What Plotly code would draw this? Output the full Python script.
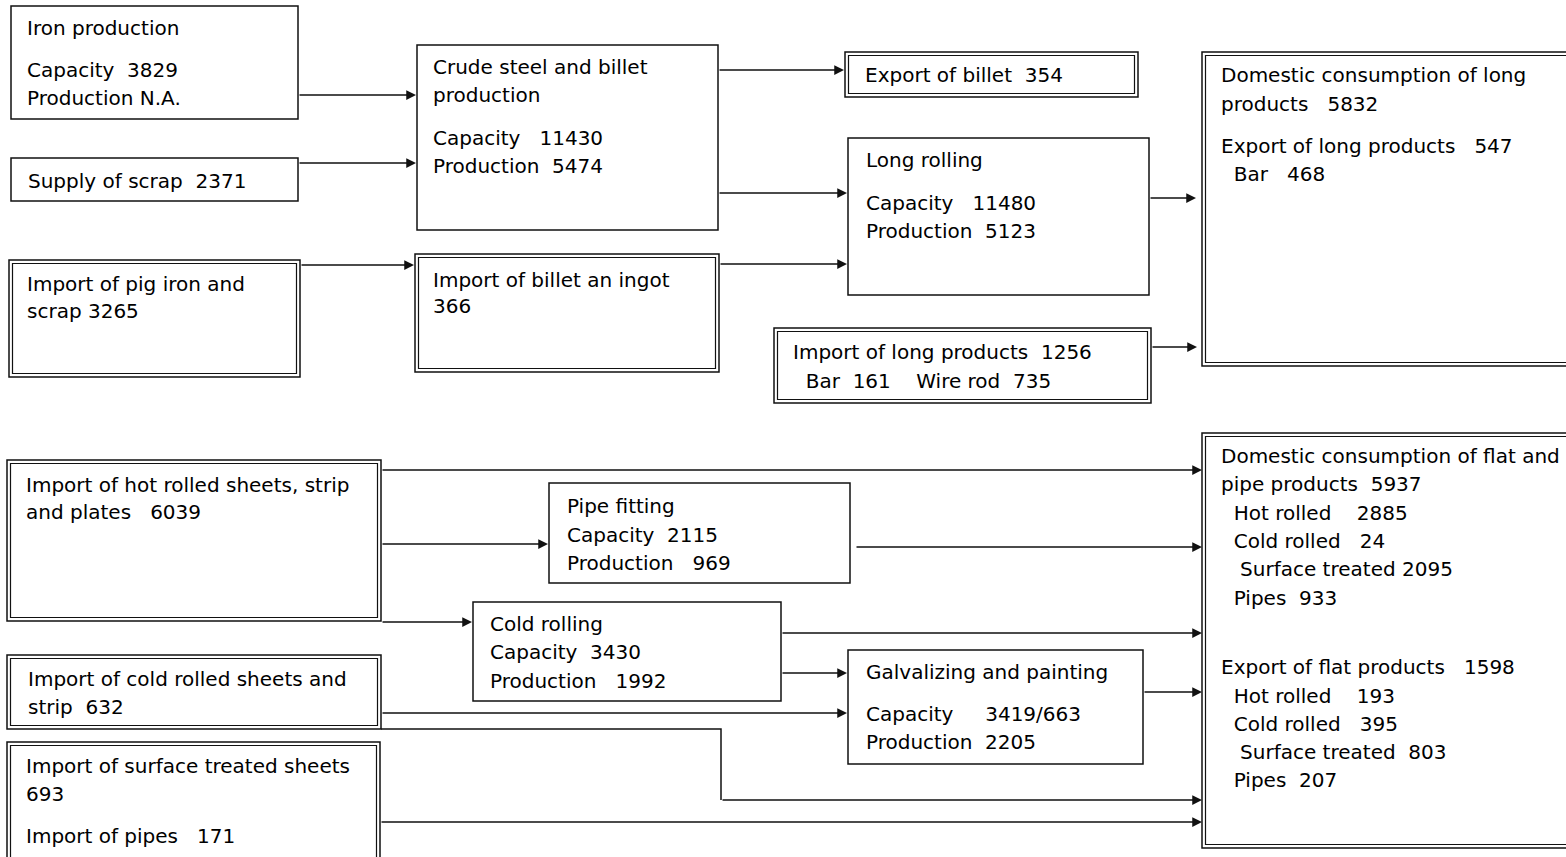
import plotly.graph_objects as go

# text of every box, one list per box
iron_lines = ["Iron production", "Capacity\u00a0 3829", "Production N.A."]
scrap_lines = ["Supply of scrap\u00a0 2371"]
pig_lines = ["Import of pig iron and", "scrap 3265"]
crude_lines = ["Crude steel and billet", "production", "Capacity\u00a0\u00a0 11430", "Production\u00a0 5474"]
billet_imp_lines = ["Import of billet an ingot", "366"]
billet_exp_lines = ["Export of billet\u00a0 354"]
long_roll_lines = ["Long rolling", "Capacity\u00a0\u00a0 11480", "Production\u00a0 5123"]
long_imp_lines = ["Import of long products\u00a0 1256", "\u00a0\u00a0Bar\u00a0 161\u00a0\u00a0\u00a0 Wire rod\u00a0 735"]
long_dom_lines = ["Domestic consumption of long", "products\u00a0\u00a0 5832",
                  "Export of long products\u00a0\u00a0 547", "\u00a0\u00a0Bar\u00a0\u00a0 468"]
hot_imp_lines = ["Import of hot rolled sheets, strip", "and plates\u00a0\u00a0 6039"]
pipe_lines = ["Pipe fitting", "Capacity\u00a0 2115", "Production\u00a0\u00a0 969"]
cold_roll_lines = ["Cold rolling", "Capacity\u00a0 3430", "Production\u00a0\u00a0 1992"]
cold_imp_lines = ["Import of cold rolled sheets and", "strip\u00a0 632"]
galv_lines = ["Galvalizing and painting", "Capacity\u00a0\u00a0\u00a0\u00a0 3419/663", "Production\u00a0 2205"]
surf_imp_lines = ["Import of surface treated sheets", "693", "Import of pipes\u00a0\u00a0 171"]
flat_dom_lines = ["Domestic consumption of flat and", "pipe products\u00a0 5937",
                  "\u00a0\u00a0Hot rolled\u00a0\u00a0\u00a0 2885", "\u00a0\u00a0Cold rolled\u00a0\u00a0 24",
                  "\u00a0\u00a0\u00a0Surface treated 2095", "\u00a0\u00a0Pipes\u00a0 933",
                  "Export of flat products\u00a0\u00a0 1598",
                  "\u00a0\u00a0Hot rolled\u00a0\u00a0\u00a0 193", "\u00a0\u00a0Cold rolled\u00a0\u00a0 395",
                  "\u00a0\u00a0\u00a0Surface treated\u00a0 803", "\u00a0\u00a0Pipes\u00a0 207"]

# box geometry: (x0, y0, x1, y1, double border, text x, line y positions, lines)
boxes = [
    (11, 6, 298, 119, False, 25, [28, 70, 98], iron_lines),
    (11, 158, 298, 201, False, 26, [181], scrap_lines),
    (9, 260, 300, 377, True, 25, [284, 311], pig_lines),
    (417, 45, 718, 230, False, 431, [67, 95, 138, 166], crude_lines),
    (415, 254, 719, 372, True, 431, [280, 306], billet_imp_lines),
    (845, 52, 1138, 97, True, 863, [75], billet_exp_lines),
    (848, 138, 1149, 295, False, 864, [160, 203, 231], long_roll_lines),
    (774, 328, 1151, 403, True, 791, [352, 381], long_imp_lines),
    (1202, 52, 1575, 366, True, 1219, [75, 104, 146, 174], long_dom_lines),
    (7, 460, 381, 621, True, 24, [485, 512], hot_imp_lines),
    (549, 483, 850, 583, False, 565, [506, 535, 563], pipe_lines),
    (473, 602, 781, 701, False, 488, [624, 652, 681], cold_roll_lines),
    (7, 655, 381, 729, True, 26, [679, 707], cold_imp_lines),
    (848, 650, 1143, 764, False, 864, [672, 714, 742], galv_lines),
    (7, 742, 380, 865, True, 24, [766, 794, 836], surf_imp_lines),
    (1202, 433, 1575, 848, True, 1219,
     [456, 484, 513, 541, 569, 598, 667, 696, 724, 752, 780], flat_dom_lines),
]

# arrows: tail x, tail y, head x, head y
arrows = [
    (298, 95, 416, 95), (298, 163, 416, 163), (300, 265, 414, 265),
    (718, 70, 844, 70), (718, 193, 847, 193), (719, 264, 847, 264),
    (1149, 198, 1196, 198), (1151, 347, 1197, 347),
    (381, 470, 1202, 470), (381, 544, 548, 544), (381, 622, 472, 622),
    (855, 547, 1202, 547), (781, 633, 1202, 633), (781, 673, 847, 673),
    (381, 713, 847, 713), (721, 800, 1202, 800), (380, 822, 1202, 822),
    (1143, 692, 1202, 692),
]
# bent connector before the last leg to the flat products box
bend_x = [381, 721, 721]
bend_y = [729, 729, 800]

LINE = "#111111"
fig = go.Figure()

for x0, y0, x1, y1, dbl, tx, ys, lines in boxes:
    fig.add_shape(type="rect", x0=x0, y0=y0, x1=x1, y1=y1,
                  line=dict(color=LINE, width=1.5), fillcolor="white", layer="below")
    if dbl:
        fig.add_shape(type="rect", x0=x0 + 3.5, y0=y0 + 3.5, x1=x1 - 3.5, y1=y1 - 3.5,
                      line=dict(color=LINE, width=1.2), layer="below")
    for yy, txt in zip(ys, lines):
        fig.add_annotation(x=tx, y=yy, text=txt, showarrow=False,
                           xanchor="left", yanchor="middle", xref="x", yref="y")

fig.add_trace(go.Scatter(x=bend_x, y=bend_y, mode="lines",
                         line=dict(color=LINE, width=1.5), hoverinfo="skip", showlegend=False))

for ax, ay, hx, hy in arrows:
    fig.add_annotation(x=hx, y=hy, ax=ax, ay=ay, xref="x", yref="y", axref="x", ayref="y",
                       text="", showarrow=True, arrowhead=2, arrowsize=1.3,
                       arrowwidth=1.5, arrowcolor=LINE, standoff=0)

fig.update_xaxes(range=[0, 1566], visible=False, fixedrange=True)
fig.update_yaxes(range=[857, 0], visible=False, fixedrange=True)
fig.update_layout(width=1566, height=857, margin=dict(l=0, r=0, t=0, b=0),
                  plot_bgcolor="white", paper_bgcolor="white", showlegend=False,
                  font=dict(family="DejaVu Sans", size=20, color="#000000"))

fig.write_html("out.html", config={"displayModeBar": False},
               post_script="document.body.style.margin='0';document.body.style.overflow='hidden';")
